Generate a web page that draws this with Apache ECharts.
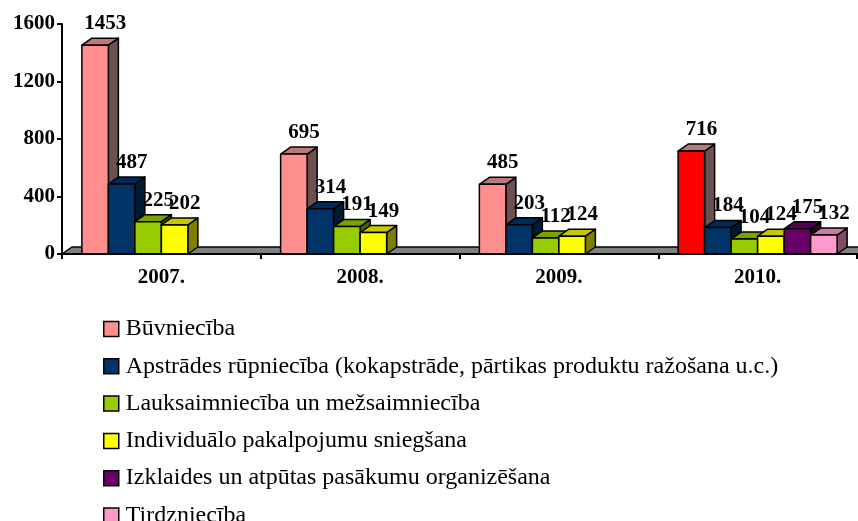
<!DOCTYPE html>
<html>
<head>
<meta charset="utf-8">
<script src="https://cdn.jsdelivr.net/npm/echarts@6/dist/echarts.min.js"></script>
<style>html,body{margin:0;padding:0;background:#fff;}#c{width:858px;height:521px;}</style>
</head>
<body>
<div id="c"></div>
<script>
// ---- data ----
var categories = ['2007.', '2008.', '2009.', '2010.'];
var seriesNames = [
  'Būvniecība',
  'Apstrādes rūpniecība (kokapstrāde, pārtikas produktu ražošana u.c.)',
  'Lauksaimniecība un mežsaimniecība',
  'Individuālo pakalpojumu sniegšana',
  'Izklaides un atpūtas pasākumu organizēšana',
  'Tirdzniecība'
];
var buvnieciba = [1453, 695, 485, 716];
var apstrades = [487, 314, 203, 184];
var lauksaimnieciba = [225, 191, 112, 104];
var individualo = [202, 149, 124, 124];
var izklaides = [null, null, null, 175];
var tirdznieciba = [null, null, null, 132];
var yTicks = [0, 400, 800, 1200, 1600];

// ---- styles ----
var frontColors = ['#FF8F8F', '#003366', '#99CC00', '#FFFF00', '#660066', '#FF99CC'];
var topColors   = ['#B87A7A', '#002A55', '#7AA300', '#C8C800', '#520052', '#CC7AA3'];
var sideColors  = ['#6E5050', '#001A33', '#4D6600', '#808000', '#330033', '#804D66'];
var pointFrontOverride = { '0-3': '#FF0000' };
var DX = 10, DY = -7;
var FONT = '"Liberation Serif", "Times New Roman", serif';

var allValues = [buvnieciba, apstrades, lauksaimnieciba, individualo, izklaides, tirdznieciba];
var nSeries = allValues.length;

function makeRender(s) {
  return function (params, api) {
    var ci = api.value(0), v = api.value(1);
    var base = api.coord([ci, 0]);
    var topPt = api.coord([ci, v]);
    var band = api.size([1, 0])[0];
    var barW = band * 0.8 / nSeries;
    var left = base[0] - band * 0.4 + s * barW;
    var right = left + barW;
    var y0 = base[1], y1 = topPt[1];
    var front = pointFrontOverride[s + '-' + ci] || frontColors[s];
    var stroke = { stroke: '#000', lineWidth: 1.5, lineJoin: 'round' };
    return {
      type: 'group',
      children: [
        { type: 'polygon', shape: { points: [[right, y1], [right + DX, y1 + DY], [right + DX, y0 + DY], [right, y0]] },
          style: Object.assign({ fill: sideColors[s] }, stroke) },
        { type: 'polygon', shape: { points: [[left, y1], [left + DX, y1 + DY], [right + DX, y1 + DY], [right, y1]] },
          style: Object.assign({ fill: topColors[s] }, stroke) },
        { type: 'rect', shape: { x: left, y: y1, width: barW, height: y0 - y1 },
          style: Object.assign({ fill: front }, stroke) },
        { type: 'text', x: left + barW / 2 + 10, y: y1 - 11,
          style: { text: String(v), fill: '#000', font: 'bold 21px ' + FONT, align: 'center', verticalAlign: 'bottom' } }
      ]
    };
  };
}

var series = [{
  type: 'custom', name: 'floor', z: 1, silent: true, clip: false,
  data: [[0, 0]],
  renderItem: function (params, api) {
    var cs = params.coordSys;
    var y0 = api.coord([0, 0])[1];
    var x = cs.x, w = cs.width + 20;
    return {
      type: 'polygon',
      shape: { points: [[x, y0], [x + DX, y0 + DY], [x + w, y0 + DY], [x + w, y0]] },
      style: { fill: '#808080', stroke: '#000', lineWidth: 1.5 }
    };
  }
}];

allValues.forEach(function (vals, s) {
  var d = [];
  vals.forEach(function (v, i) { if (v != null) d.push([i, v]); });
  series.push({
    type: 'custom', name: seriesNames[s], z: 2, clip: false,
    itemStyle: { color: frontColors[s] },
    encode: { x: 0, y: 1 },
    data: d,
    renderItem: makeRender(s)
  });
});

var chart = echarts.init(document.getElementById('c'));
chart.setOption({
  animation: false,
  backgroundColor: '#fff',
  grid: { left: 62, right: 1, top: 24, bottom: 267, containLabel: false },
  xAxis: {
    type: 'category', data: categories, boundaryGap: true,
    axisLine: { show: true, lineStyle: { color: '#000', width: 2 } },
    axisTick: { show: true, length: 5, lineStyle: { color: '#000', width: 2 } },
    axisLabel: { color: '#000', fontFamily: FONT, fontWeight: 'bold', fontSize: 21, margin: 13 },
    z: 5
  },
  yAxis: {
    type: 'value', min: yTicks[0], max: yTicks[yTicks.length - 1], interval: yTicks[1] - yTicks[0],
    axisLine: { show: true, lineStyle: { color: '#000', width: 2 } },
    axisTick: { show: true, length: 5, lineStyle: { color: '#000', width: 2 } },
    splitLine: { show: false },
    axisLabel: { color: '#000', fontFamily: FONT, fontWeight: 'bold', fontSize: 21, margin: 7,
      formatter: function (v) { return String(v); } },
    z: 5
  },
  legend: {
    orient: 'vertical', left: 98, top: 312, height: 400,
    itemWidth: 15, itemHeight: 15, itemGap: 13.3,
    selectedMode: false,
    textStyle: { color: '#000', fontFamily: FONT, fontSize: 24, lineHeight: 24, padding: [0, 0, 0, 2] },
    data: seriesNames.map(function (n, s) {
      return { name: n, icon: 'rect', itemStyle: { color: frontColors[s], borderColor: '#000', borderWidth: 1.5 } };
    })
  },
  series: series
});
</script>
</body>
</html>
